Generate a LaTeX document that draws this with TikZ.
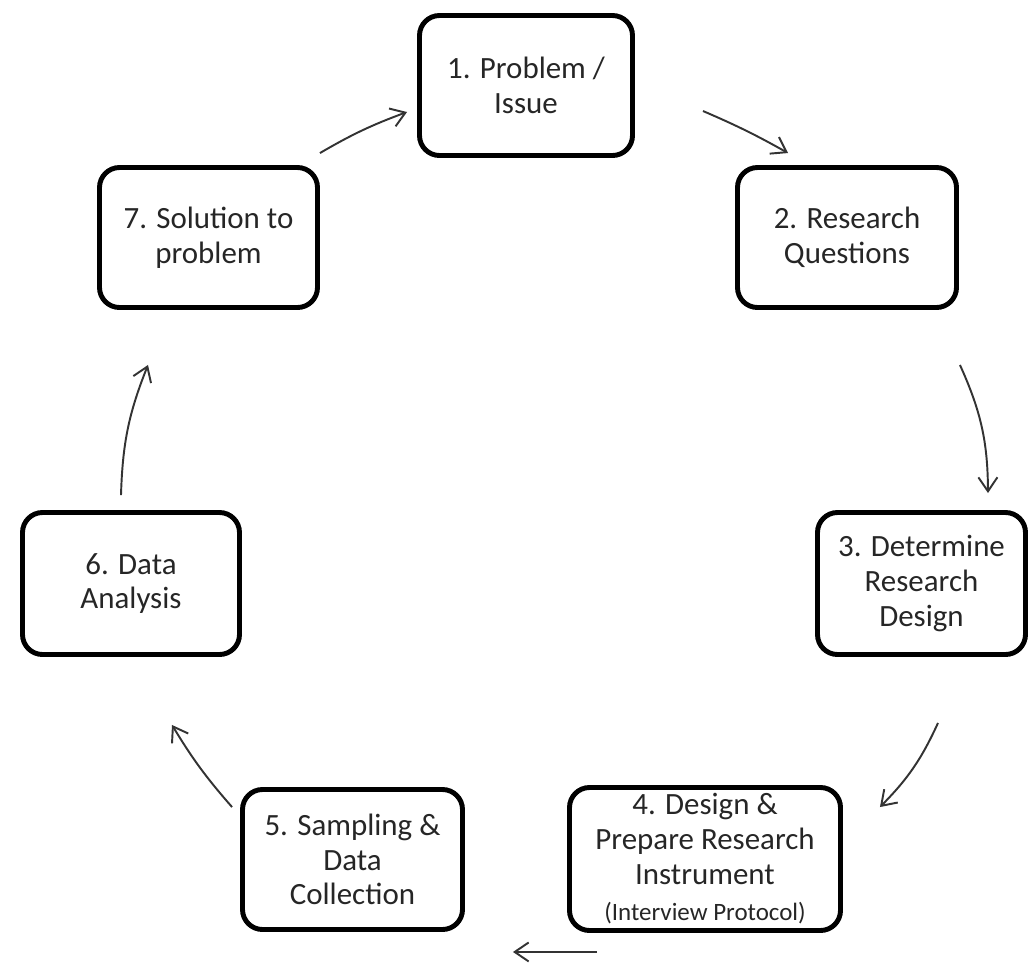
\documentclass[tikz,border=0pt]{standalone}
\usepackage{fontspec}
\setmainfont{Carlito}
\usepackage{xcolor}
\usepackage{tikz}
\usetikzlibrary{arrows.meta,calc}

\begin{document}
\begin{tikzpicture}[
  box/.style={draw, line width=2.8pt, rounded corners=0.4cm, align=center, text=black!85,
    font=\fontsize{17.6pt}{19.8pt}\selectfont, inner sep=2pt},
  arr/.style={-{Straight Barb[length=2.8mm, width=3.8mm]}, line width=1.1pt, draw=black!80}
]
\useasboundingbox (0,0) rectangle (20.6,-19.24);
\node[box, minimum width=4.26cm, minimum height=2.8cm] (n1) at (10.52,-1.71) {1. Problem /\\Issue};
\node[box, minimum width=4.38cm, minimum height=2.8cm] (n2) at (16.94,-4.75) {2. Research\\Questions};
\node[box, minimum width=4.16cm, minimum height=2.84cm] (n3) at (18.43,-11.67) {3. Determine\\Research\\Design};
\node[box, minimum width=5.42cm, minimum height=2.86cm] (n4) at (14.10,-17.18)
  {4. Design \&\\Prepare Research\\Instrument\\[1pt]{\fontsize{14.2pt}{16pt}\selectfont (Interview Protocol)}};
\node[box, minimum width=4.4cm, minimum height=2.8cm] (n5) at (7.05,-17.19) {5. Sampling \&\\Data\\Collection};
\node[box, minimum width=4.34cm, minimum height=2.84cm] (n6) at (2.62,-11.67) {6. Data\\Analysis};
\node[box, minimum width=4.36cm, minimum height=2.8cm] (n7) at (4.17,-4.75) {7. Solution to\\problem};
% cycle arrows
\draw[arr] ([yshift=0.24cm]n7.north east) to[bend left=5] ([shift={(-0.2,-0.53)}]n1.west);
\draw[arr] ([shift={(1.36,-0.51)}]n1.east) to[bend left=3] ([shift={(1.06,0.24)}]n2.north west);
\draw[arr] ([shift={(0.02,-1.1)}]n2.south east) to[bend left=12] ([shift={(1.33,0.34)}]n3.north);
\draw[arr] ([shift={(0.33,-1.32)}]n3.south) to[bend left=10] ([shift={(0.74,-0.44)}]n4.north east);
\draw[arr] ([shift={(0.6,-0.38)}]n4.south west) -- ([shift={(0.96,-0.4)}]n5.south east);
\draw[arr] ([shift={(-0.16,-0.4)}]n5.north west) to[bend left=5] ([shift={(0.82,-1.36)}]n6.south);
\draw[arr] ([shift={(-0.2,0.3)}]n6.north) to[bend left=10] ([shift={(-1.21,-1.1)}]n7.south);
\end{tikzpicture}
\end{document}
